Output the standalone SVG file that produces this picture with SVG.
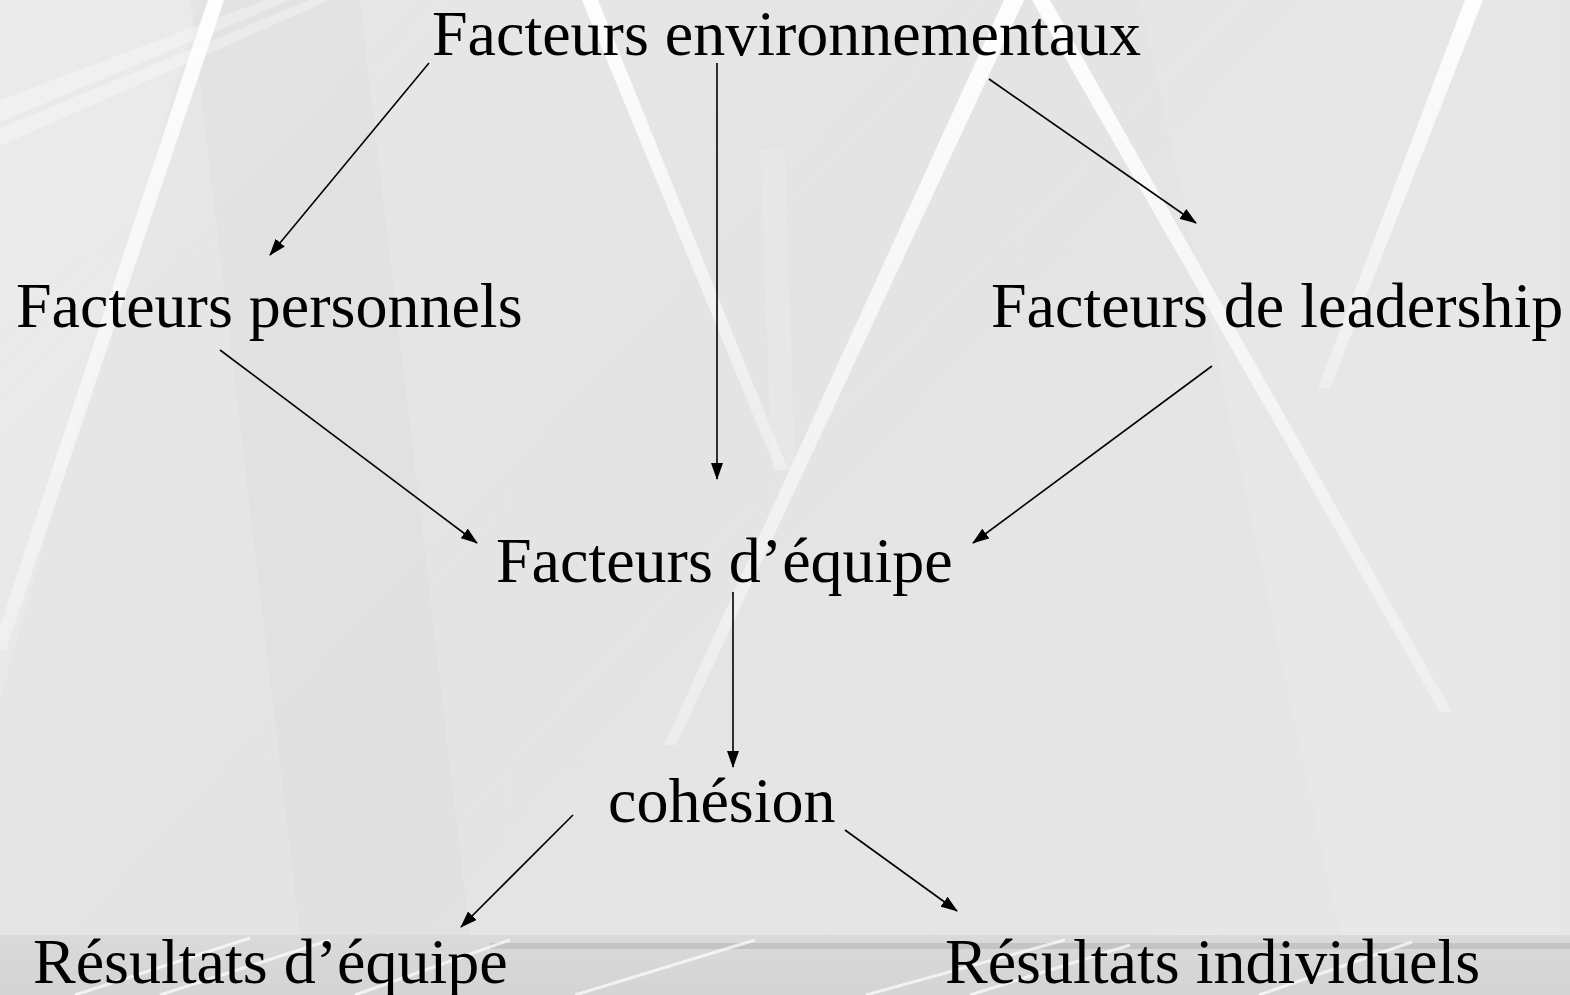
<svg xmlns="http://www.w3.org/2000/svg" width="1570" height="995" viewBox="0 0 1570 995">
  <defs>
    <linearGradient id="bg" x1="0" y1="0" x2="1" y2="0.6">
      <stop offset="0" stop-color="#e8e8e8"/>
      <stop offset="0.5" stop-color="#e4e4e4"/>
      <stop offset="1" stop-color="#e6e6e6"/>
    </linearGradient>
    <linearGradient id="fadeDown" x1="0" y1="0" x2="0" y2="1">
      <stop offset="0" stop-color="#ffffff" stop-opacity="0.95"/>
      <stop offset="1" stop-color="#ffffff" stop-opacity="0.3"/>
    </linearGradient>
    <linearGradient id="band" x1="0" y1="0" x2="0" y2="1">
      <stop offset="0" stop-color="#dadada"/>
      <stop offset="1" stop-color="#d4d4d4"/>
    </linearGradient>
    <marker id="ah" markerUnits="userSpaceOnUse" markerWidth="17" markerHeight="12" refX="16" refY="6" orient="auto">
      <path d="M0,0 L17,6 L0,12 Z" fill="#000"/>
    </marker>
    <style>
      .lbl { font-family: "Liberation Serif", "Times New Roman", serif; font-size: 64px; fill: #000; }
      .cn { stroke: #000; stroke-width: 1.6; fill: none; marker-end: url(#ah); }
      .st { fill: url(#fadeDown); }
      .faint { fill: #ffffff; opacity: 0.3; }
      .streak { stroke: #ffffff; stroke-width: 3; opacity: 0.7; }
    </style>
  </defs>

  <g id="background">
    <rect x="0" y="0" width="1570" height="995" fill="url(#bg)"/>
    <!-- subtle wedges -->
    <polygon points="0,0 200,0 0,700" fill="#ffffff" opacity="0.12"/>
    <polygon points="190,0 360,0 470,935 300,935" fill="#000000" opacity="0.015"/>
    <polygon points="760,150 785,150 795,470 772,470" fill="#ffffff" opacity="0.12"/>
    <polygon points="1140,0 1560,0 1560,935 1340,935" fill="#ffffff" opacity="0.08"/>
    <!-- faint top-left bands -->
    <polygon class="faint" points="0,100 265,0 290,0 0,122"/>
    <polygon class="faint" points="0,128 310,0 330,0 0,146"/>
    <!-- white stripes -->
    <polygon class="st" points="208,0 224,0 6,650 -8,650"/>
    <polygon class="st" points="582,0 598,0 788,470 776,470"/>
    <polygon class="st" points="1004,0 1024,0 676,745 664,745"/>
    <polygon class="st" points="1032,0 1050,0 1452,712 1440,712"/>
    <polygon class="st" points="1465,0 1483,0 1330,388 1318,388"/>
    <!-- bottom band -->
    <rect x="0" y="935" width="1570" height="60" fill="url(#band)"/>
    <rect x="490" y="943" width="1080" height="6" fill="#c4c4c4"/>
    <line class="streak" x1="75" y1="995" x2="250" y2="938"/>
    <line class="streak" x1="160" y1="995" x2="330" y2="940"/>
    <line class="streak" x1="355" y1="995" x2="510" y2="940"/>
    <line class="streak" x1="575" y1="995" x2="755" y2="940"/>
    <line class="streak" x1="866" y1="995" x2="1065" y2="940"/>
    <line class="streak" x1="970" y1="995" x2="1130" y2="945"/>
    <line class="streak" x1="1259" y1="995" x2="1412" y2="942"/>
  </g>

  <g id="connectors">
    <line class="cn" x1="429" y1="63" x2="270" y2="255"/>
    <line class="cn" x1="717" y1="63" x2="717" y2="479"/>
    <line class="cn" x1="989" y1="79" x2="1196" y2="223"/>
    <line class="cn" x1="220" y1="350" x2="477" y2="543"/>
    <line class="cn" x1="1212" y1="366" x2="973" y2="543"/>
    <line class="cn" x1="733" y1="592" x2="733" y2="767"/>
    <line class="cn" x1="573" y1="815" x2="461" y2="927"/>
    <line class="cn" x1="845" y1="830" x2="957" y2="911"/>
  </g>

  <g id="node-env"><text class="lbl" x="432" y="55">Facteurs environnementaux</text></g>
  <g id="node-perso"><text class="lbl" x="16" y="327">Facteurs personnels</text></g>
  <g id="node-leader"><text class="lbl" x="991" y="327">Facteurs de leadership</text></g>
  <g id="node-equipe"><text class="lbl" x="496" y="582">Facteurs d’équipe</text></g>
  <g id="node-cohesion"><text class="lbl" x="608" y="822">cohésion</text></g>
  <g id="node-res-equipe"><text class="lbl" x="33" y="983">Résultats d’équipe</text></g>
  <g id="node-res-indiv"><text class="lbl" x="945" y="983">Résultats individuels</text></g>
</svg>
